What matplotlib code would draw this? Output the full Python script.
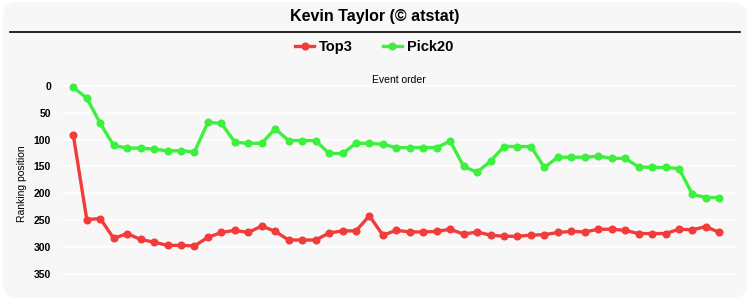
import matplotlib

matplotlib.use("Agg")

import matplotlib.pyplot as plt
from matplotlib.patches import FancyBboxPatch
from matplotlib.lines import Line2D

TITLE = "Kevin Taylor (\u00a9 atstat)"
SERIES_NAMES = ["Top3", "Pick20"]
SERIES_COLORS = {"Top3": "#f23b3b", "Pick20": "#3ef03e"}

top3 = [
    92, 249, 247, 284, 275, 286, 291, 297, 297, 298,
    282, 273, 269, 273, 261, 271, 287, 287, 287, 274,
    270, 270, 242, 278, 269, 272, 272, 271, 267, 276,
    272, 278, 280, 280, 278, 277, 273, 271, 272, 267,
    267, 269, 275, 275, 275, 267, 268, 262, 273,
]
pick20 = [
    3, 23, 70, 111, 116, 116, 118, 121, 121, 123,
    68, 70, 105, 107, 107, 80, 102, 102, 102, 126,
    126, 107, 107, 109, 115, 115, 115, 115, 103, 150,
    161, 140, 113, 113, 113, 152, 133, 133, 133, 131,
    135, 135, 151, 152, 152, 154, 202, 208, 208,
]
event_order = list(range(1, len(top3) + 1))
y_ticks = [0, 50, 100, 150, 200, 250, 300, 350]

plt.rcParams["font.family"] = ["Liberation Sans", "DejaVu Sans"]

fig = plt.figure(figsize=(7.5, 3.0), dpi=100)
fig.patch.set_facecolor("white")
fig.patches.append(FancyBboxPatch(
    (0.004, 0.007), 0.992, 0.986,
    boxstyle="round,pad=0,rounding_size=0.02",
    transform=fig.transFigure, facecolor="#f7f7f7", edgecolor="none",
    mutation_aspect=2.5, zorder=-10,
))

fig.text(0.5, 0.931, TITLE, ha="center", va="baseline", fontsize=11.5,
         fontweight="bold")
fig.add_artist(Line2D([0.013, 0.987], [0.893, 0.893], color="black", linewidth=1.2,
                      transform=fig.transFigure))

ax = fig.add_axes([0.0827, 0.0423, 0.8987, 0.6933])
ax.set_facecolor("#f7f7f7")

for name, values in zip(SERIES_NAMES, [top3, pick20]):
    ax.plot(event_order, values, color=SERIES_COLORS[name], linewidth=2.4,
            marker="o", markersize=4.8, label=name)

ax.set_ylim(375, -12)
ax.set_xlim(0.16, 50.24)
ax.set_yticks(y_ticks)
ax.set_xticks([])
ax.grid(axis="y", color="white", linewidth=1.3)
ax.set_axisbelow(True)
for spine in ax.spines.values():
    spine.set_visible(False)
ax.tick_params(axis="y", length=0, pad=8, labelsize=7.5)
for label in ax.get_yticklabels():
    label.set_fontweight("bold")
ax.set_ylabel("Ranking position", fontsize=7.5, labelpad=5)
fig.text(0.532, 0.733, "Event order", ha="center", va="center", fontsize=7.5)

fig.legend(loc="center", bbox_to_anchor=(0.499, 0.843), ncol=2, frameon=False,
           prop={"weight": "bold", "size": 10.5}, handlelength=1.25,
           columnspacing=2.1, handletextpad=0.35)

fig.savefig("out.png", dpi=100, facecolor=fig.get_facecolor())
